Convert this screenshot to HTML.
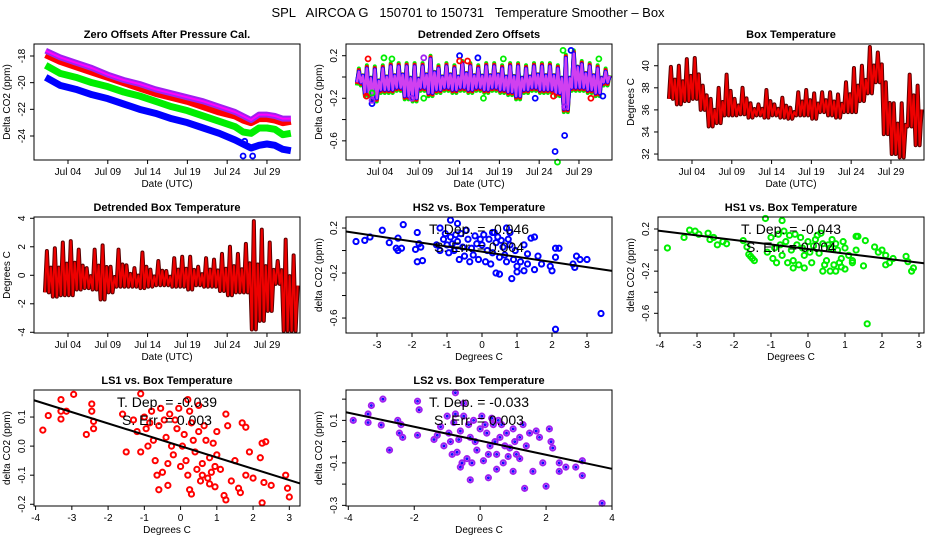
<!DOCTYPE html>
<html><head><meta charset="utf-8"><style>
body{margin:0;background:#fff}
svg{display:block;font-family:"Liberation Sans",sans-serif}
</style></head><body>
<svg id="c" width="936" height="540" viewBox="0 0 936 540">
<text x="468" y="17" text-anchor="middle" font-size="13" style="white-space:pre">SPL   AIRCOA G   150701 to 150731   Temperature Smoother – Box</text>
</svg>
<script>
// ---- data ----
const dateTicks=[4,9,14,19,24,29];
const dateLabels=["Jul 04","Jul 09","Jul 14","Jul 19","Jul 24","Jul 29"];
const p1Days=[1.2,3,5,7,9,11,13,15,17,19,21,23,25,26,27,28,29,30,31,32];
const p1Purple=[-17.6,-18.1,-18.5,-18.9,-19.4,-19.8,-20.1,-20.5,-20.8,-21.1,-21.4,-21.8,-22.2,-22.5,-22.8,-22.4,-22.4,-22.5,-22.7,-22.7];
const p1Red=[-17.9,-18.4,-18.8,-19.2,-19.6,-20.0,-20.4,-20.8,-21.1,-21.4,-21.8,-22.2,-22.5,-22.8,-23.0,-22.7,-22.7,-22.8,-23.0,-22.9];
const p1Green=[-18.7,-19.3,-19.6,-20.0,-20.3,-20.7,-21.0,-21.4,-21.8,-22.1,-22.5,-22.9,-23.3,-23.7,-23.8,-23.4,-23.4,-23.5,-23.9,-23.8];
const p1Blue=[-19.6,-20.2,-20.5,-20.9,-21.2,-21.6,-22.0,-22.3,-22.7,-23.0,-23.4,-23.8,-24.3,-24.6,-24.9,-24.7,-24.6,-24.7,-25.0,-25.1];
const days=[1,2,3,4,5,6,7,8,9,10,11,12,13,14,15,16,17,18,19,20,21,22,23,24,25,26,27,28,29,30,31,32];
const detMax=[0.05,0.08,0.07,0.08,0.1,0.1,0.1,0.1,0.1,0.17,0.08,0.1,0.08,0.12,0.1,0.08,0.1,0.1,0.08,0.1,0.1,0.08,0.1,0.1,0.1,0.08,0.18,0.22,0.12,0.1,0.08,0.05];
const detMin=[-0.05,-0.15,-0.2,-0.12,-0.12,-0.1,-0.18,-0.2,-0.1,-0.15,-0.12,-0.1,-0.12,-0.1,-0.12,-0.1,-0.12,-0.1,-0.12,-0.14,-0.18,-0.12,-0.1,-0.12,-0.12,-0.15,-0.3,-0.1,-0.1,-0.12,-0.15,-0.05];
const detOutDay=[26,27.2,3,14,16.3,28,32,23.5,26.3,27,4.5,5.5,19.5,31.5,3,9.5,17,2.5,14,15,2.3,25.8,30.5,27.2,3,8,9.5];
const detOutVal=[-0.7,-0.55,-0.25,0.2,0.18,0.25,-0.18,-0.2,-0.8,0.25,0.18,0.17,0.17,0.17,-0.15,-0.2,-0.2,0.17,0.15,0.15,-0.18,-0.18,-0.2,-0.28,-0.22,-0.2,0.18];
const detOutCol=["b","b","b","b","b","b","b","b","g","g","g","g","g","g","g","g","g","r","r","r","r","r","r","p","p","p","p"];
const tempMax=[39.9,40.0,40.6,40.7,38.2,37.0,38.0,39.2,37.0,38.0,36.6,36.5,37.8,36.5,37.1,36.2,37.6,37.8,37.5,37.6,37.6,37.4,38.5,39.8,40.0,41.7,41.2,38.5,36.6,36.6,39.2,38.2];
const tempMin=[37.0,36.5,36.8,37.0,36.0,34.5,34.8,35.5,35.5,35.6,35.3,35.5,35.3,35.5,35.3,35.2,35.5,35.5,35.2,35.8,35.5,35.3,35.8,35.8,36.8,37.5,38.5,33.8,32.0,31.7,34.5,32.8];
const dtMax=[1.7,1.9,2.3,2.4,1.8,0.5,1.8,2.1,0.6,1.8,0.7,0.5,1.6,0.4,1.0,0.3,1.2,1.3,1.3,0.6,1.2,1.1,1.5,2.0,1.5,2.2,3.8,3.2,2.3,1.0,2.5,1.4];
const dtMin=[-1.2,-1.5,-1.4,-1.4,-1.0,-0.9,-1.0,-1.7,-1.2,-0.8,-0.8,-0.8,-0.9,-0.8,-0.7,-0.7,-0.8,-0.8,-1.0,-0.7,-0.8,-0.8,-1.1,-1.4,-1.2,-1.2,-3.8,-3.2,-2.5,-0.6,-3.9,-3.9];

const hs2X=[-3.6,-3.35,-3.2,-2.85,-2.65,-2.4,-2.45,-2.4,-2.3,-2.25,-1.9,-1.85,-1.85,-1.7,-1.8,-1.75,-1.2,-1.3,-0.9,-0.7,0.3,0.7,0.8,1.4,1.5,2.1,2.2,2.0,1.95,2.1,2.6,2.65,2.7,2.8,3.0,3.4,2.1,0.85,0.4,0.5,1.0,1.2,1.5,1.7,1.6,1.3,0.9,
-1.1,-1.0,-0.9,-0.8,-0.7,-0.6,-0.5,-0.4,-0.3,-0.2,-0.1,0,0.1,0.2,0.3,0.4,0.5,0.6,0.7,0.8,-1.2,-0.95,-0.75,-0.55,-0.35,-0.15,0.05,0.25,0.45,0.65,-0.65,-0.45,-0.25,0.15,0.35,0.55,0.95,1.1,1.2,-0.85,1.0,1.3,-0.05,0.75,-1.05];
const hs2Y=[0.08,0.09,0.12,0.18,0.07,0.11,0.02,0.0,0.02,0.23,0.01,0.16,-0.1,-0.09,0.06,0.03,0.2,0.05,0.27,0.24,0.16,0.2,0.16,0.11,0.12,0.02,0.02,-0.18,-0.14,-0.06,-0.12,-0.15,-0.05,-0.08,-0.08,-0.56,-0.7,-0.25,-0.2,-0.21,-0.19,-0.18,-0.17,-0.12,-0.05,-0.03,-0.08,
0.1,0.05,0.12,0.0,0.08,0.15,-0.05,0.1,0.02,0.13,-0.08,0.05,-0.1,0.1,-0.02,0.07,-0.06,0.03,-0.1,0.05,0.0,-0.02,0.14,0.03,-0.1,0.06,0.14,-0.12,0.12,-0.04,-0.08,0.18,-0.04,0.0,0.16,0.09,0.0,-0.1,0.05,0.06,-0.14,-0.12,0.1,0.1,0.15];
const hs1X=[-3.8,-3.35,-3.2,-3.05,-2.95,-2.7,-2.65,-2.55,-2.45,-2.3,-2.2,-1.75,-1.6,-1.55,-1.5,-1.45,-1.65,-1.15,-0.7,-0.4,-0.1,0.4,0.6,0.75,0.9,1.3,1.35,1.55,1.8,1.9,2.0,2.1,2.1,2.3,2.65,2.7,2.85,2.8,1.6,1.5,1.0,1.2,2.2,
-1.0,-0.9,-0.8,-0.7,-0.6,-0.5,-0.4,-0.3,-0.2,-0.1,0,0.1,0.2,0.3,0.4,0.5,0.6,0.7,0.8,0.9,1.0,1.1,1.2,-1.1,-0.95,-0.75,-0.55,-0.35,-0.15,0.05,0.25,0.45,0.65,0.85,-0.65,-0.25,0.15,0.35,0.55,-0.45,1.3,0.75,-0.85,0.95];
const hs1Y=[0.02,0.12,0.19,0.18,0.15,0.16,0.1,0.12,0.05,0.08,0.06,0.09,-0.04,-0.06,-0.08,-0.1,0.03,0.3,0.28,-0.17,-0.17,-0.2,-0.2,-0.2,-0.16,0.13,0.13,0.09,0.03,-0.02,0.0,-0.05,-0.14,-0.08,-0.06,-0.11,-0.17,-0.2,-0.7,-0.15,-0.18,-0.12,-0.12,
0.12,0.02,0.15,-0.05,0.08,0.14,-0.1,0.05,0.12,-0.05,0.08,-0.12,0.1,-0.03,0.06,-0.1,0.02,-0.14,0.0,-0.08,0.02,-0.05,-0.1,-0.02,-0.08,0.05,-0.12,0.15,0.02,-0.02,0.14,-0.14,0.1,-0.12,0.18,-0.14,0.04,0.16,0.05,0.0,0.0,0.06,-0.12,0.08];
const ls1X=[-3.8,-3.65,-3.3,-3.3,-3.3,-3.15,-2.95,-2.6,-2.45,-2.45,-2.4,-2.4,-1.5,-1.6,-1.1,-0.6,-0.35,0.3,0.25,0.95,1.2,1.25,1.6,1.65,2.25,2.3,2.5,2.9,2.95,3.0,2.2,2.35,2.25,1.7,1.8,1.3,1.25,1.0,0.2,0.5,1.9,1.5,1.1,2.0,1.8,1.4,0.8,0.6,
-1.2,-1.0,-0.9,-0.8,-0.7,-0.6,-0.5,-0.4,-0.3,-0.2,-0.1,0,0.1,0.2,0.3,0.4,0.5,0.6,0.7,0.8,0.9,-1.1,-0.95,-0.75,-0.55,-0.35,-0.15,0.05,0.25,0.45,0.65,0.85,-0.65,-0.45,-0.25,0.15,0.35,0.55,-0.85,-0.05,0.75,1.0,-1.3,0.95];
const ls1Y=[0.055,0.105,0.16,0.12,0.093,0.12,0.178,0.04,0.145,0.12,0.085,0.06,-0.02,0.11,0.18,-0.15,-0.135,-0.165,-0.15,-0.14,-0.17,-0.185,-0.145,-0.16,-0.195,-0.125,-0.135,-0.1,-0.145,-0.175,-0.04,0.015,0.01,0.08,0.065,0.07,0.11,0.05,0.16,0.14,-0.02,-0.05,-0.08,-0.11,-0.1,-0.12,-0.13,-0.1,
0.05,0.1,0.0,0.12,-0.05,0.07,-0.09,0.03,0.11,-0.03,0.06,-0.07,0.04,-0.1,0.08,-0.02,0.05,-0.06,0.02,-0.04,0.01,-0.02,0.06,0.02,0.13,-0.06,0.09,0.0,0.12,-0.08,0.07,-0.09,-0.1,0.09,0.0,-0.05,0.02,-0.12,0.08,0.13,-0.11,-0.03,0.09,-0.07];
const ls2X=[-3.85,-3.4,-3.4,-3.3,-3.0,-2.95,-2.75,-2.5,-2.45,-2.4,-2.35,-1.9,-1.9,-1.85,-0.75,-0.5,-0.3,0.25,1.35,2.0,1.6,1.9,2.1,2.15,2.2,2.4,2.6,2.4,2.9,3.1,3.1,3.7,1.5,1.7,1.8,1.3,1.0,0.5,-0.6,-1.4,-1.3,1.2,
-1.2,-1.0,-0.9,-0.8,-0.7,-0.6,-0.5,-0.4,-0.3,-0.2,-0.1,0,0.1,0.2,0.3,0.4,0.5,0.6,0.7,0.8,0.9,1.0,1.1,1.2,1.4,-1.1,-0.95,-0.75,-0.55,-0.35,-0.15,0.05,0.25,0.45,0.65,0.85,-0.65,-0.25,0.15,0.35,0.55,-0.85,1.05,0.75];
const ls2Y=[0.1,0.13,0.09,0.17,0.078,0.2,-0.04,0.1,0.04,0.08,0.02,0.03,0.19,0.15,0.23,0.18,-0.18,-0.17,-0.22,-0.21,-0.14,-0.1,0.06,0.0,-0.03,-0.1,-0.12,-0.14,-0.12,-0.09,-0.16,-0.29,0.04,0.05,0.02,0.08,-0.14,-0.13,-0.12,0.01,0.03,-0.08,
0.07,0.12,0.0,0.09,-0.05,0.05,0.12,-0.08,0.02,0.1,-0.04,0.06,-0.09,0.04,-0.02,0.08,-0.06,0.02,-0.1,0.04,-0.03,0.06,-0.06,0.02,-0.02,-0.02,0.04,0.13,-0.1,0.08,0.0,0.12,-0.06,0.0,0.08,-0.07,0.01,-0.1,0.08,0.11,0.1,-0.06,0.0,-0.02];
const slopes=[-0.046,-0.043,-0.039,-0.033];
const intercepts=[-0.01,0.01,0.0,0.004];
const depLabels=["-0.046","-0.043","-0.039","-0.033"];
const errLabels=["0.004","0.004","0.003","0.003"];

// ---- layout ----
const NS="http://www.w3.org/2000/svg";
const svg=document.getElementById('c');
const COLS=[34,346,658], ROWS=[44,217,390], W=266, H=116;
const COL={r:"#ff0000",g:"#00ee00",b:"#0000ff",p:"#a020f0"};
function mk(tag,attrs,parent){const e=document.createElementNS(NS,tag);for(const k in attrs)e.setAttribute(k,attrs[k]);(parent||svg).appendChild(e);return e;}
function panel(name,col,row,xd,yd,title,xlab,ylab,xt,xtl,yt,ytl){
  const L=COLS[col],T=ROWS[row];
  const g=mk('g',{});
  
  
  const sx=v=>L+(v-xd[0])/(xd[1]-xd[0])*W;
  const sy=v=>T+H-(v-yd[0])/(yd[1]-yd[0])*H;
  const t=mk('text',{x:L+W/2,y:T-6,'text-anchor':'middle','font-size':11,'font-weight':'bold'},g);t.textContent=title;
  
  
  const xa=mk('g',{},g);
  
  
  xt.forEach((v,i)=>{const x=sx(v);mk('line',{x1:x,x2:x,y1:T+H,y2:T+H+4,stroke:'#000'},xa);
    const tl=mk('text',{x:x,y:T+H+15,'text-anchor':'middle','font-size':10},xa);tl.textContent=xtl[i];});
  const ya=mk('g',{},g);
  
  
  yt.forEach((v,i)=>{const y=sy(v);mk('line',{x1:L-4,x2:L,y1:y,y2:y,stroke:'#000'},ya);
    if(ytl[i]!==""){const tl=mk('text',{x:L-9,y:y,'text-anchor':'middle','font-size':10,transform:`rotate(-90 ${L-9} ${y})`},ya);tl.textContent=ytl[i];}});
  const xl=mk('text',{x:L+W/2,y:T+H+27,'text-anchor':'middle','font-size':10},g);xl.textContent=xlab;
  
  
  const yx=L-24,yy=T+H/2;
  const yl=mk('text',{x:yx,y:yy,'text-anchor':'middle','font-size':10,transform:`rotate(-90 ${yx} ${yy})`},g);yl.textContent=ylab;
  
  
  const plot=mk('g',{},g);
  
  
  const box=mk('rect',{x:L,y:T,width:W,height:H,fill:'none',stroke:'#000'},g);
  
  
  return {sx,sy,plot,L,T};
}
function line(p,xs,ys,color,w,name){
  const pl=mk('polyline',{points:xs.map((x,i)=>p.sx(x)+','+p.sy(ys[i])).join(' '),fill:'none',stroke:color,'stroke-width':w,'stroke-linejoin':'round'},p.plot);
  
  
}
function zig(p,mx,mn,color,w,name){
  const xs=[],ys=[];
  days.forEach((d,i)=>{const dd=d+0.1;xs.push(dd,dd+0.25,dd+0.5,dd+0.75);ys.push(mn[i],mx[i],mn[i],mx[i]*0.6+mn[i]*0.4);});
  line(p,xs,ys,color,w,name);
}
function pts(p,xs,ys,color,name,r,sw){
  xs.forEach((x,i)=>{const c=mk('circle',{cx:p.sx(x),cy:p.sy(ys[i]),r:r||2.5,fill:'none',stroke:color,'stroke-width':sw||1.8},p.plot);
    
    });
}
const DX=[-0.27,33.15];
// Panel 1
let p=panel('zero-offsets-panel',0,0,DX,[-25.8,-17.1],'Zero Offsets After Pressure Cal.','Date (UTC)','Delta CO2 (ppm)',dateTicks,dateLabels,[-18,-20,-22,-24],["-18","-20","-22","-24"]);
line(p,p1Days,p1Blue,COL.b,7,'series-blue');
line(p,p1Days,p1Green,COL.g,7,'series-green');
line(p,p1Days,p1Red,COL.r,7,'series-red');
line(p,p1Days,p1Purple,COL.p,6,'series-purple');
line(p,p1Days,p1Purple,'#ff00ff',2,'series-purple-highlight');
pts(p,[26,27.2,26.2],[-25.5,-25.5,-24.4],COL.b,'outlier');
// Panel 2
p=panel('detrended-zero-panel',1,0,DX,[-0.78,0.31],'Detrended Zero Offsets','Date (UTC)','Delta CO2 (ppm)',dateTicks,dateLabels,[0.2,0,-0.2,-0.4,-0.6],["0.2","","-0.2","","-0.6"]);
zig(p,detMax.map(v=>v+0.03),detMin.map(v=>v-0.03),COL.g,4,'band-green');
zig(p,detMax.map(v=>v+0.015),detMin.map(v=>v-0.015),COL.r,4,'band-red');
zig(p,detMax,detMin,COL.b,4,'band-blue');
zig(p,detMax,detMin,'#d040f0',2.5,'band-purple');
detOutDay.forEach((d,i)=>pts(p,[d],[detOutVal[i]],COL[detOutCol[i]],'outlier'));
// Panel 3
p=panel('box-temperature-panel',2,0,DX,[31.46,41.97],'Box Temperature','Date (UTC)','Degrees C',dateTicks,dateLabels,[32,34,36,38,40],["32","34","36","38","40"]);
zig(p,tempMax,tempMin,'#5a0000',4,'temp-outline');
zig(p,tempMax,tempMin,'#ee0000',2,'temp-series');
// Panel 4
p=panel('detrended-box-temp-panel',0,1,DX,[-4.05,4.09],'Detrended Box Temperature','Date (UTC)','Degrees C',dateTicks,dateLabels,[-4,-2,0,2,4],["-4","-2","0","2","4"]);
zig(p,dtMax,dtMin,'#5a0000',4,'dtemp-outline');
zig(p,dtMax,dtMin,'#ee0000',2,'dtemp-series');
// scatter panels
function scat(name,col,row,xd,yd,title,xt,yt,ytl,X,Y,color,k){
  const q=panel(name,col,row,xd,yd,title,'Degrees C','delta CO2 (ppm)',xt,xt.map(String),yt,ytl);
  pts(q,X,Y,color,'point',2.6,2);
  if(color===COL.p) pts(q,X,Y,'#0000ff','point-inner',0.8,1.2);
  line(q,xd,xd.map(x=>slopes[k]*x+intercepts[k]),'#000',2,'regression-line');
  const a=mk('text',{x:q.L+W/2,y:q.T+17,'text-anchor':'middle','font-size':14},q.plot);a.textContent='T. Dep. =  '+depLabels[k];
  
  
  const b=mk('text',{x:q.L+W/2,y:q.T+35,'text-anchor':'middle','font-size':14},q.plot);b.textContent='S. Err. =  '+errLabels[k];
  
  
}
scat('hs2-panel',1,1,[-3.886,3.714],[-0.733,0.298],'HS2 vs. Box Temperature',[-3,-2,-1,0,1,2,3],[0.2,0,-0.2,-0.4,-0.6],["0.2","","-0.2","","-0.6"],hs2X,hs2Y,COL.b,0);
scat('hs1-panel',2,1,[-4.054,3.135],[-0.787,0.314],'HS1 vs. Box Temperature',[-4,-3,-2,-1,0,1,2,3],[0.2,0,-0.2,-0.4,-0.6],["0.2","","-0.2","","-0.6"],hs1X,hs1Y,COL.g,1);
scat('ls1-panel',0,2,[-4.044,3.295],[-0.206,0.193],'LS1 vs. Box Temperature',[-4,-3,-2,-1,0,1,2,3],[-0.2,-0.1,0,0.1],["-0.2","-0.1","0.0","0.1"],ls1X,ls1Y,COL.r,2);
scat('ls2-panel',1,2,[-4.07,4.0],[-0.303,0.243],'LS2 vs. Box Temperature',[-4,-2,0,2,4],[-0.3,-0.2,-0.1,0,0.1,0.2],["-0.3","","-0.1","","0.1",""],ls2X,ls2Y,COL.p,3);
</script>
</body></html>
